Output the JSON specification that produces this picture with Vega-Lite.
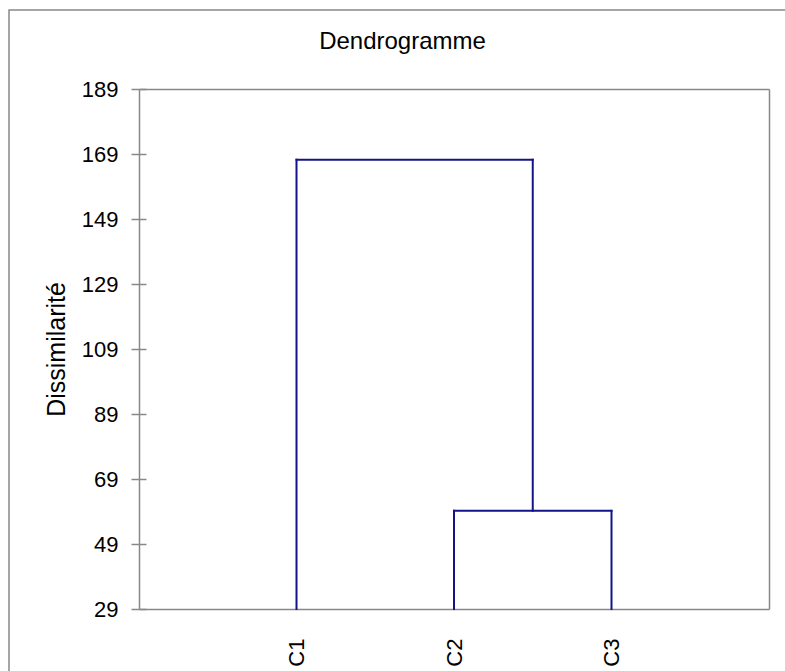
{
  "$schema": "https://vega.github.io/schema/vega-lite/v6.json",
  "width": 779,
  "height": 664,
  "autosize": {"type": "none"},
  "padding": {"left": 9, "top": 10, "right": -3, "bottom": -3},
  "background": "white",
  "title": {
    "text": "Dendrogramme",
    "font": "Liberation Sans",
    "fontSize": 24,
    "fontWeight": "normal",
    "color": "#000000",
    "baseline": "alphabetic",
    "anchor": "middle",
    "frame": "group",
    "offset": -63,
    "dx": 4
  },
  "data": {
    "values": [
      {"x1": 1, "x2": 1, "y1": 29, "y2": 167.2},
      {"x1": 2, "x2": 2, "y1": 29, "y2": 59.2},
      {"x1": 3, "x2": 3, "y1": 29, "y2": 59.2},
      {"x1": 2, "x2": 3, "y1": 59.2, "y2": 59.2},
      {"x1": 2.5, "x2": 2.5, "y1": 59.2, "y2": 167.2},
      {"x1": 1, "x2": 2.5, "y1": 167.2, "y2": 167.2}
    ]
  },
  "layer": [
    {
      "mark": {"type": "rule", "color": "#13138a", "strokeWidth": 2, "strokeCap": "square"},
      "encoding": {
        "x": {
          "field": "x1", "type": "quantitative",
          "scale": {"domain": [0, 4], "range": [130, 760], "nice": false, "zero": false},
          "axis": {
            "orient": "bottom", "offset": -65, "values": [1, 2, 3],
            "labelExpr": "'C' + datum.value", "labelAngle": -90,
            "ticks": false, "tickSize": 0, "labelPadding": 29,
            "labelFontSize": 22, "title": null
          }
        },
        "x2": {"field": "x2"},
        "y": {
          "field": "y1", "type": "quantitative",
          "scale": {"domain": [29, 189], "range": [599, 79], "nice": false, "zero": false},
          "axis": {
            "orient": "left", "offset": -130,
            "values": [29, 49, 69, 89, 109, 129, 149, 169, 189],
            "tickSize": 8, "labelPadding": 13, "labelFontSize": 22,
            "title": "Dissimilarité", "titleFontSize": 25, "titleFontWeight": "normal",
            "titlePadding": 12
          }
        },
        "y2": {"field": "y2"}
      }
    },
    {
      "mark": {"type": "rule", "opacity": 0},
      "encoding": {
        "x": {
          "field": "x1", "type": "quantitative",
          "scale": {"domain": [0, 4], "range": [130, 760], "nice": false, "zero": false},
          "axis": {"orient": "top", "offset": -79, "labels": false, "ticks": false, "title": null}
        },
        "y": {
          "field": "y1", "type": "quantitative",
          "scale": {"domain": [29, 189], "range": [599, 79], "nice": false, "zero": false},
          "axis": {"orient": "right", "offset": -19, "labels": false, "ticks": false, "title": null}
        }
      }
    },
    {
      "mark": {"type": "rule", "opacity": 0},
      "encoding": {
        "x": {
          "field": "x1", "type": "quantitative",
          "scale": {"domain": [0, 4], "range": [130, 760], "nice": false, "zero": false},
          "axis": null
        },
        "y": {
          "field": "y1", "type": "quantitative",
          "scale": {"domain": [29, 189], "range": [599, 79], "nice": false, "zero": false},
          "axis": {
            "orient": "left", "offset": -130,
            "values": [29, 49, 69, 89, 109, 129, 149, 169, 189],
            "tickSize": -7, "labels": false, "domain": false, "title": null
          }
        }
      }
    }
  ],
  "resolve": {"axis": {"x": "independent", "y": "independent"}},
  "config": {
    "view": {"stroke": "#888888", "strokeWidth": 1.5, "fill": "white"},
    "axis": {
      "grid": false,
      "domainColor": "#888888",
      "domainWidth": 1.5,
      "tickColor": "#888888",
      "tickWidth": 1.5,
      "labelFont": "Liberation Sans",
      "labelColor": "#000000",
      "titleFont": "Liberation Sans",
      "titleColor": "#000000"
    }
  }
}
